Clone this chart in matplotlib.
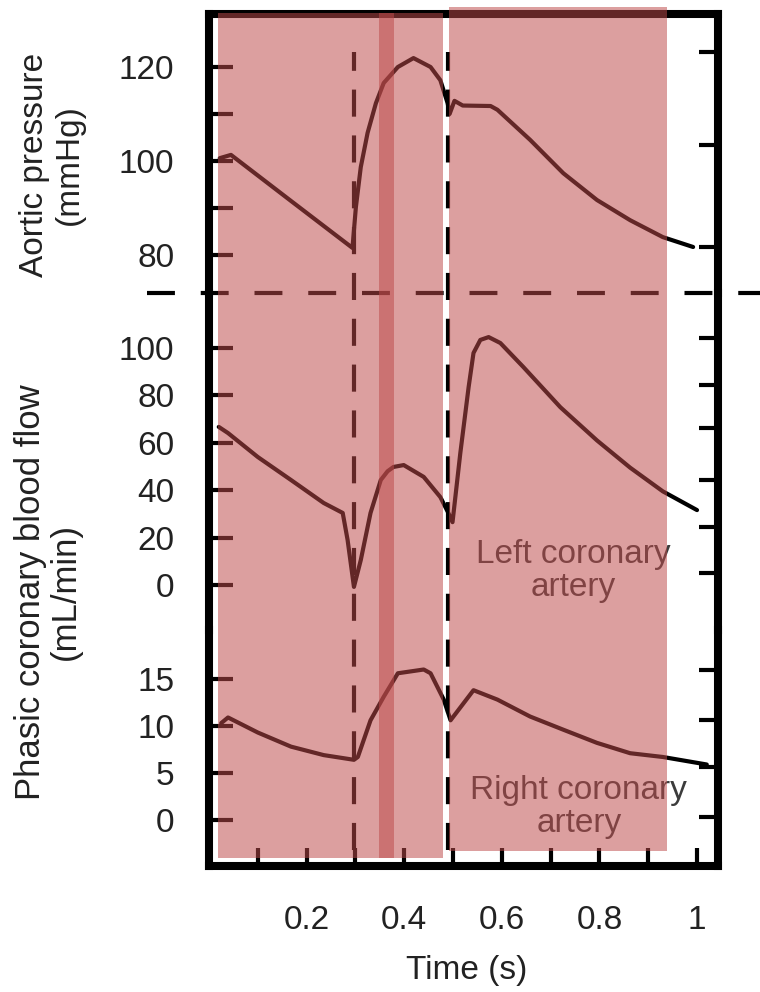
import matplotlib.pyplot as plt
from matplotlib.patches import Rectangle

plt.rcParams['font.family'] = ['Liberation Sans', 'DejaVu Sans']

# aortic pressure (mmHg) over one cardiac cycle
aortic_t = [0.022, 0.045, 0.168, 0.294, 0.301, 0.311, 0.325, 0.342, 0.358, 0.387,
            0.419, 0.454, 0.474, 0.489, 0.493, 0.503, 0.520, 0.577, 0.591, 0.658,
            0.726, 0.795, 0.863, 0.930, 0.992]
aortic_p = [100.6, 101.3, 91.5, 81.5, 90.2, 98.7, 106.0, 112.3, 116.6, 120.0,
            121.9, 120.0, 117.2, 112.3, 110.0, 112.8, 111.8, 111.7, 110.9, 104.5,
            97.4, 91.7, 87.4, 83.8, 81.7]

# left coronary artery flow (mL/min)
left_t = [0.020, 0.039, 0.100, 0.168, 0.235, 0.274, 0.284, 0.297, 0.311, 0.331,
          0.352, 0.366, 0.378, 0.399, 0.440, 0.474, 0.489, 0.499, 0.515, 0.532,
          0.542, 0.556, 0.573, 0.597, 0.644, 0.720, 0.795, 0.863, 0.930, 1.000]
left_flow = [66.7, 64.1, 54.0, 44.3, 34.6, 30.4, 19.0, -0.8, 10.5, 30.4,
             44.3, 48.0, 49.8, 50.6, 45.6, 37.1, 31.0, 26.5, 55.7, 83.5,
             97.9, 103.4, 104.6, 102.1, 92.0, 75.0, 61.0, 49.5, 39.5, 31.6]

# right coronary artery flow (mL/min)
right_t = [0.025, 0.039, 0.100, 0.168, 0.235, 0.297, 0.305, 0.331, 0.358, 0.387,
           0.440, 0.454, 0.481, 0.495, 0.542, 0.591, 0.658, 0.726, 0.795, 0.863,
           0.930, 1.020]
right_flow = [10.3, 10.9, 9.3, 7.8, 6.9, 6.4, 6.7, 10.6, 13.1, 15.6,
              16.0, 15.6, 12.8, 10.6, 13.8, 12.8, 11.0, 9.6, 8.2, 7.1,
              6.7, 5.9]

valve_times = [0.297, 0.489]

x_ticks = [0.1, 0.2, 0.3, 0.4, 0.5, 0.6, 0.7, 0.8, 0.9, 1.0]
x_labels = ['', '0.2', '', '0.4', '', '0.6', '', '0.8', '', '1']
p_ticks = [80, 90, 100, 110, 120]
p_labels = ['80', '', '100', '', '120']
p_ticks_right = [81.7, 103.4, 123.2]
lf_ticks = [0, 20, 40, 60, 80, 100]
lf_ticks_right = [5.1, 24.5, 44.3, 66.2, 84.4, 104.2]
rf_ticks = [0, 5, 10, 15]
rf_ticks_right = [0.3, 5.6, 10.6, 16.0]

W, H = 760, 992
fig = plt.figure(figsize=(W / 100, H / 100), dpi=100)


def fx(px):
    return px / W


def fy(py):
    return 1 - py / H


left, right = 209, 718
ax1 = fig.add_axes([fx(left), fy(293), fx(right - left), (293 - 14) / H])
ax2 = fig.add_axes([fx(left), fy(630), fx(right - left), (630 - 293) / H], sharex=ax1)
ax3 = fig.add_axes([fx(left), fy(866), fx(right - left), (866 - 630) / H], sharex=ax1)

lw_frame = 5.8
fs = 24
line_kw = dict(color='black', lw=3.0, solid_joinstyle='round', solid_capstyle='round')

ax1.plot(aortic_t, aortic_p, **line_kw)
ax2.plot(left_t, left_flow, **line_kw)
ax3.plot(right_t, right_flow, **line_kw)

ax1.set_xlim(0, 1.043)
ax1.set_ylim(71.91, 131.28)
ax2.set_ylim(-18.99, 123.2)
ax3.set_ylim(-4.89, 20.2)

for ax, ticks, labels, rticks in [(ax1, p_ticks, p_labels, p_ticks_right),
                                  (ax2, lf_ticks, [str(v) for v in lf_ticks], lf_ticks_right),
                                  (ax3, rf_ticks, [str(v) for v in rf_ticks], rf_ticks_right)]:
    ax.set_facecolor('none')
    for s in ax.spines.values():
        s.set_linewidth(lw_frame)
        s.set_color('black')
        s.set_capstyle('projecting')
    ax.set_yticks(ticks)
    ax.set_yticklabels(labels)
    ax.tick_params(axis='y', direction='in', length=17, width=3, pad=25,
                   labelsize=fs, colors='black', labelcolor='#222222', right=False)
    sec = ax.secondary_yaxis('right')
    for s in sec.spines.values():
        s.set_visible(False)
    sec.set_yticks(rticks)
    sec.tick_params(direction='in', length=14, width=3, labelright=False, color='black')

ax1.spines['bottom'].set_visible(False)
ax2.spines['top'].set_visible(False)
ax2.spines['bottom'].set_visible(False)
ax3.spines['top'].set_visible(False)

ax1.tick_params(axis='x', bottom=False, labelbottom=False)
ax2.tick_params(axis='x', bottom=False, labelbottom=False)
ax3.set_xticks(x_ticks)
ax3.set_xticklabels(x_labels)
ax3.tick_params(axis='x', direction='in', length=13, width=3, pad=28,
                labelsize=fs, labelcolor='#222222')

# valve event lines and panel divider
for t in valve_times:
    ax3.axvline(t, ymin=(866 - 850) / 236, ymax=(866 - 52) / 236, clip_on=False,
                color='black', lw=3.0, dashes=(6.5, 4.5))
ax1.plot([(147 - left) / (right - left), (760 - left) / (right - left)], [0, 0],
         transform=ax1.transAxes, clip_on=False, color='black', lw=3.0, dashes=(6.7, 6.2))

ax2.text(0.746, 6.0, 'Left coronary\nartery', ha='center', va='center',
         fontsize=fs, color='#3c3c3c', linespacing=1.1)
ax3.text(0.758, 1.4, 'Right coronary\nartery', ha='center', va='center',
         fontsize=fs, color='#3c3c3c', linespacing=1.1)

fig.text(fx(52), fy(165), 'Aortic pressure\n(mmHg)', rotation=90, ha='center',
         va='center', fontsize=fs, color='#222222', multialignment='center', linespacing=1.15)
fig.text(fx(48), fy(592), 'Phasic coronary blood flow\n(mL/min)', rotation=90,
         ha='center', va='center', fontsize=25, color='#222222',
         multialignment='center', linespacing=1.1)
fig.text(fx(467), fy(970), 'Time (s)', ha='center', va='center', fontsize=fs,
         color='#222222')

# translucent highlight boxes over the figure
shade = '#bd4b4b'
for x0, y0, x1, y1 in [(218, 13, 443, 858), (449, 7, 667, 851), (379, 13, 394, 858)]:
    fig.add_artist(Rectangle((fx(x0), fy(y1)), fx(x1 - x0), (y1 - y0) / H,
                             transform=fig.transFigure, facecolor=shade,
                             edgecolor='none', alpha=0.53, zorder=5))

fig.savefig('out.png', dpi=100)
